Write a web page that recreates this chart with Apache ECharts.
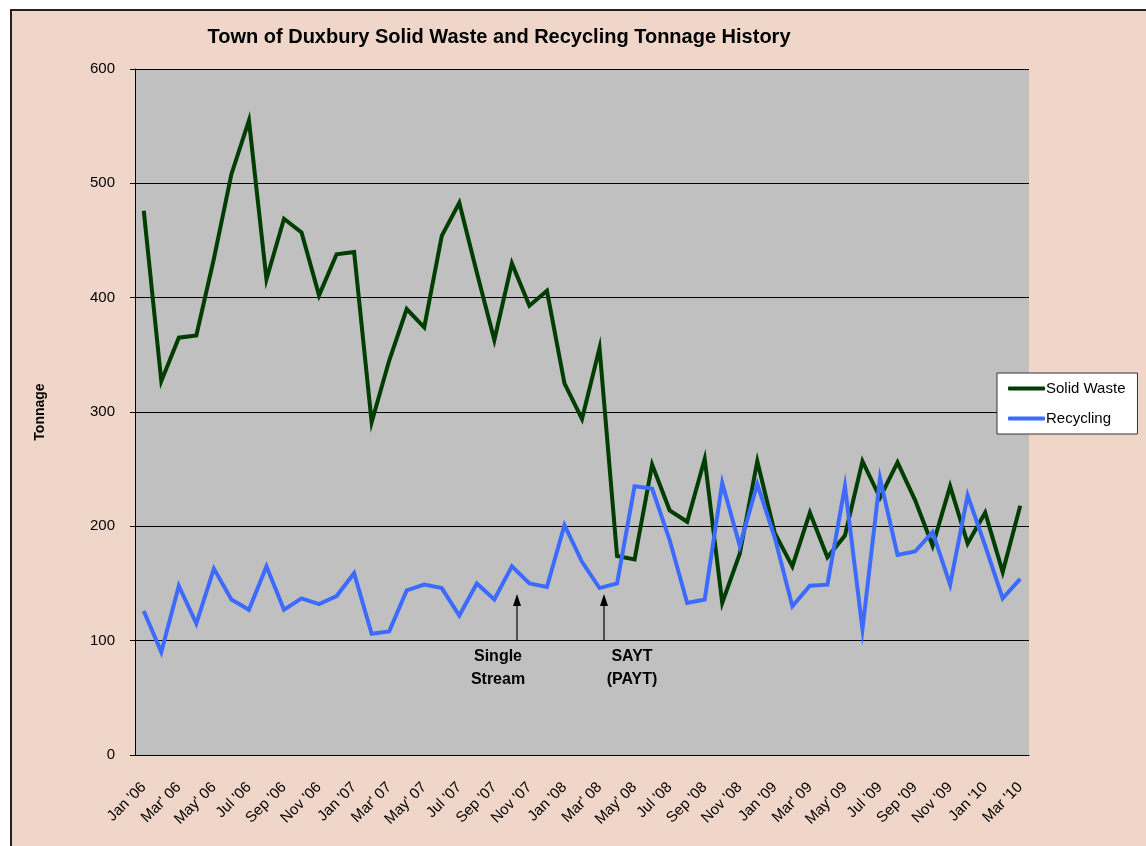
<!DOCTYPE html>
<html>
<head>
<meta charset="utf-8">
<script src="https://cdn.jsdelivr.net/npm/echarts@6/dist/echarts.min.js"></script>
<style>
    html, body { margin: 0; padding: 0; background: #fff; overflow: hidden; }
    #frame { position: absolute; left: 10px; top: 9px; width: 1200px; height: 900px; background: #F0D6C8; border: 2px solid #222; }
    #chart { position: absolute; left: 0; top: 0; width: 1146px; height: 846px; }
</style>
</head>
<body>
<div id="frame"></div>
<div id="chart"></div>
<script>
    // Jan '06 .. Mar '10, monthly
    const months = [
        "Jan '06", "Feb '06", "Mar' 06", "Apr '06", "May' 06", "Jun '06", "Jul '06", "Aug '06", "Sep '06", "Oct '06", "Nov '06", "Dec '06",
        "Jan '07", "Feb '07", "Mar' 07", "Apr '07", "May' 07", "Jun '07", "Jul '07", "Aug '07", "Sep '07", "Oct '07", "Nov '07", "Dec '07",
        "Jan '08", "Feb '08", "Mar' 08", "Apr '08", "May' 08", "Jun '08", "Jul '08", "Aug '08", "Sep '08", "Oct '08", "Nov '08", "Dec '08",
        "Jan '09", "Feb '09", "Mar' 09", "Apr '09", "May' 09", "Jun '09", "Jul '09", "Aug '09", "Sep '09", "Oct '09", "Nov '09", "Dec '09",
        "Jan '10", "Feb '10", "Mar '10"
    ];
    const solidWaste = [
        476, 327, 365, 367, 434, 508, 555, 416, 469, 457, 402, 438,
        440, 291, 345, 390, 374, 454, 483, 422, 363, 430, 393, 406,
        325, 294, 356, 174, 171, 254, 214, 204, 259, 133, 176, 257,
        194, 165, 212, 173, 192, 257, 225, 256, 223, 183, 235, 185,
        212, 160, 218
    ];
    const recycling = [
        126, 90, 148, 115, 163, 136, 127, 165, 127, 137, 132, 139,
        159, 106, 108, 144, 149, 146, 122, 150, 136, 165, 150, 147,
        201, 169, 146, 150, 235, 233, 188, 133, 136, 238, 183, 237,
        190, 130, 148, 149, 235, 110, 242, 175, 178, 195, 149, 227,
        183, 137, 154
    ];
    const yTicks = [0, 100, 200, 300, 400, 500, 600];

    const FONT = '"Liberation Sans", Arial, sans-serif';
    const chart = echarts.init(document.getElementById('chart'));

    // annotation arrow + label (layout only)
    function note(x, text, tx) {
        return [
            { type: 'line', shape: { x1: x, y1: 641, x2: x, y2: 600 }, style: { stroke: '#000', lineWidth: 1.2 }, z: 20 },
            { type: 'polygon', shape: { points: [[x, 594], [x - 4, 606], [x + 4, 606]] }, style: { fill: '#000' }, z: 20 },
            {
                type: 'text', z: 20,
                style: {
                    x: tx, y: 645, text: text, fill: '#000',
                    font: 'bold 16px ' + FONT, align: 'center', lineHeight: 23
                }
            }
        ];
    }

    const option = {
        backgroundColor: 'transparent',
        animation: false,
        title: {
            text: 'Town of Duxbury Solid Waste and Recycling Tonnage History',
            left: 494,
            textAlign: 'center',
            top: 22,
            textStyle: { fontFamily: FONT, fontSize: 20, fontWeight: 'bold', color: '#000' }
        },
        legend: {
            orient: 'vertical',
            left: 997,
            top: 373,
            backgroundColor: '#fff',
            borderColor: '#333',
            borderWidth: 1,
            padding: [8, 12, 8, 11],
            itemGap: 15,
            itemWidth: 37,
            itemHeight: 4,
            icon: 'roundRect',
            textStyle: { fontFamily: FONT, fontSize: 15, color: '#000', padding: [0, 0, 0, -4] },
            data: ['Solid Waste', 'Recycling']
        },
        grid: {
            left: 135,
            top: 69,
            right: 117,
            bottom: 91,
            show: true,
            backgroundColor: '#C0C0C0',
            borderWidth: 0
        },
        xAxis: {
            type: 'category',
            data: months,
            boundaryGap: true,
            axisLine: { lineStyle: { color: '#000', width: 1 } },
            axisTick: { interval: 0, length: 5, lineStyle: { color: '#000' } },
            axisLabel: {
                interval: 1,
                rotate: 45,
                margin: 30,
                fontFamily: FONT,
                fontSize: 15,
                color: '#000'
            },
            splitLine: { show: false }
        },
        yAxis: {
            type: 'value',
            min: yTicks[0],
            max: yTicks[yTicks.length - 1],
            interval: 100,
            name: 'Tonnage',
            nameLocation: 'middle',
            nameGap: 88,
            nameTextStyle: { fontFamily: FONT, fontSize: 14, fontWeight: 'bold', color: '#000' },
            axisLine: { show: true, lineStyle: { color: '#000', width: 1 } },
            axisTick: { show: true, length: 5, lineStyle: { color: '#000' } },
            axisLabel: { margin: 20, fontFamily: FONT, fontSize: 15, color: '#000' },
            splitLine: { show: true, lineStyle: { color: '#000', width: 1 } }
        },
        series: [
            {
                name: 'Solid Waste',
                type: 'line',
                data: solidWaste,
                showSymbol: false,
                color: '#003D00',
                lineStyle: { width: 4, color: '#003D00', join: 'miter' },
                z: 3
            },
            {
                name: 'Recycling',
                type: 'line',
                data: recycling,
                showSymbol: false,
                color: '#3D6BFF',
                lineStyle: { width: 4, color: '#3D6BFF', join: 'miter' },
                z: 4
            }
        ],
        graphic: [].concat(
            note(517, 'Single\nStream', 498),
            note(604, 'SAYT\n(PAYT)', 632)
        )
    };

    chart.setOption(option);
</script>
</body>
</html>
